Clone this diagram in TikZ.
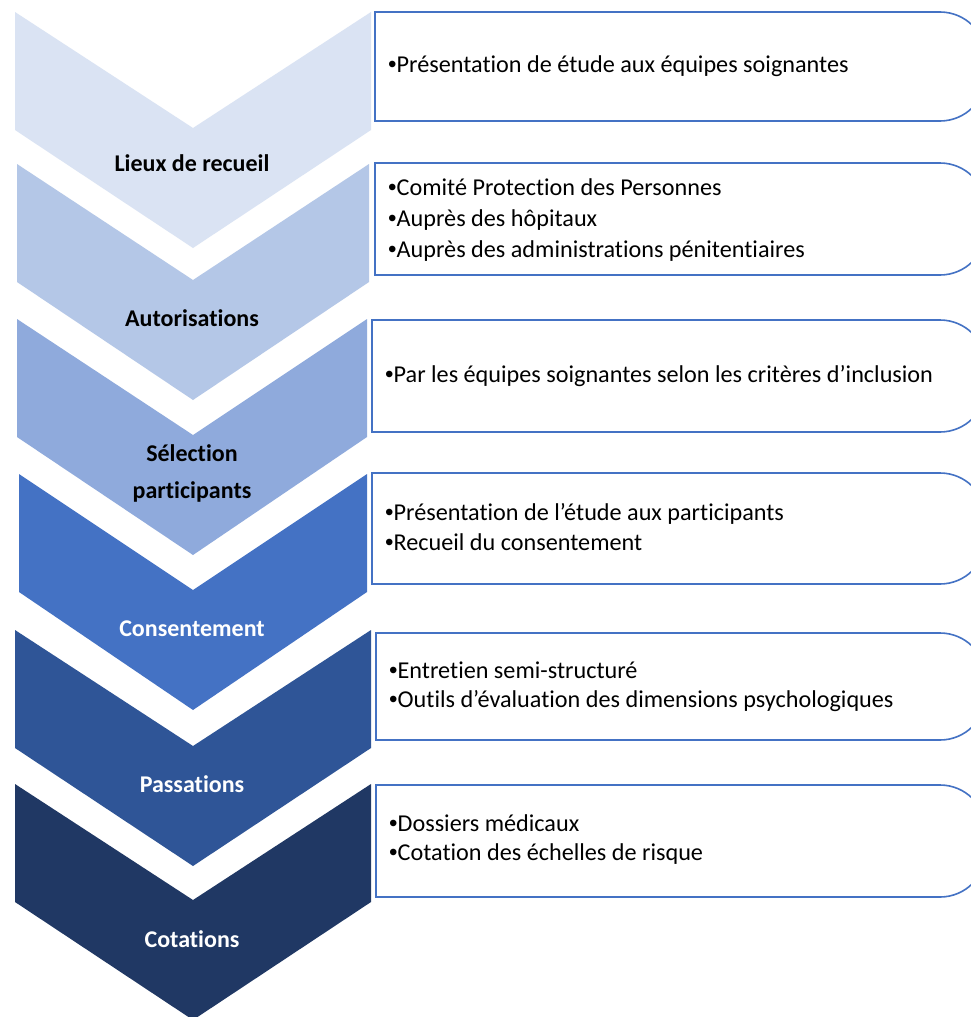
\documentclass[tikz,border=0pt]{standalone}
\usepackage{fontspec}
\setmainfont{Carlito}[Ligatures=NoCommon]
\newfontfamily\bulfont{Liberation Sans}
\newcommand\bul{{\bulfont •}}
\definecolor{cA}{HTML}{DAE3F3}
\definecolor{cB}{HTML}{B4C7E7}
\definecolor{cC}{HTML}{8FAADC}
\definecolor{cD}{HTML}{4472C4}
\definecolor{cE}{HTML}{2F5597}
\definecolor{cF}{HTML}{203864}
\newcommand\mychev[4]{%
  \fill[#4] (#1,-#3) -- (193,{-#3-116}) -- (#2,-#3) -- (#2,{-#3-118}) -- (193,{-#3-236}) -- (#1,{-#3-118}) -- cycle;}
\newcommand\mybox[3]{%
  \draw[boxline] (#1,-#2) -- (940,-#2) arc[start angle=90,end angle=0,radius=46] -- (986,{-#3+46}) arc[start angle=0,end angle=-90,radius=46] -- (#1,-#3) -- cycle;}
\begin{document}
\begin{tikzpicture}[x=1pt,y=1pt,
  lbl/.style={font=\fontsize{24}{30}\selectfont\bfseries, anchor=base, inner sep=0pt},
  itm/.style={font=\fontsize{24.2}{30}\selectfont, anchor=base west, inner sep=0pt, text=black},
  boxline/.style={draw=cD, line width=1.6pt}]
\useasboundingbox (0,0) rectangle (971,-1017);
\clip (0,0) rectangle (971,-1017);
\fill[white] (0,0) rectangle (971,-1017);
% chevrons
\mychev{15}{371}{12}{cA}
\mychev{17}{369}{164}{cB}
\mychev{17}{367}{319}{cC}
\mychev{19}{367}{474}{cD}
\mychev{15}{371}{630}{cE}
\mychev{15}{371}{784}{cF}
% labels
\node[lbl, text=black] (l1) at (192,-171) {Lieux de recueil};
\node[lbl, text=black] (l2) at (192,-326) {Autorisations};
\node[lbl, text=black] (l3a) at (192,-461) {Sélection};
\node[lbl, text=black] (l3b) at (192,-498) {participants};
\node[lbl, text=white] (l4) at (192,-636) {Consentement};
\node[lbl, text=white] (l5) at (192,-792) {Passations};
\node[lbl, text=white] (l6) at (192,-947) {Cotations};
% boxes
\mybox{375}{12}{121}
\mybox{375}{163}{275}
\mybox{372}{320}{432}
\mybox{372}{473}{584}
\mybox{376}{633}{740}
\mybox{376}{785}{897}
% box texts
\node[itm] (t1) at (388,-72) {\bul Présentation de étude aux équipes soignantes};
\node[itm] (t2a) at (388,-195) {\bul Comité Protection des Personnes};
\node[itm] (t2b) at (388,-226) {\bul Auprès des hôpitaux};
\node[itm] (t2c) at (388,-257) {\bul Auprès des administrations pénitentiaires};
\node[itm] (t3) at (385,-382) {\bul Par les équipes soignantes selon les critères d’inclusion};
\node[itm] (t4a) at (385,-520) {\bul Présentation de l’étude aux participants};
\node[itm] (t4b) at (385,-550) {\bul Recueil du consentement};
\node[itm] (t5a) at (389,-678) {\bul Entretien semi-structuré};
\node[itm] (t5b) at (389,-707) {\bul Outils d’évaluation des dimensions psychologiques};
\node[itm] (t6a) at (389,-831) {\bul Dossiers médicaux};
\node[itm] (t6b) at (389,-860) {\bul Cotation des échelles de risque};
\end{tikzpicture}
\end{document}
